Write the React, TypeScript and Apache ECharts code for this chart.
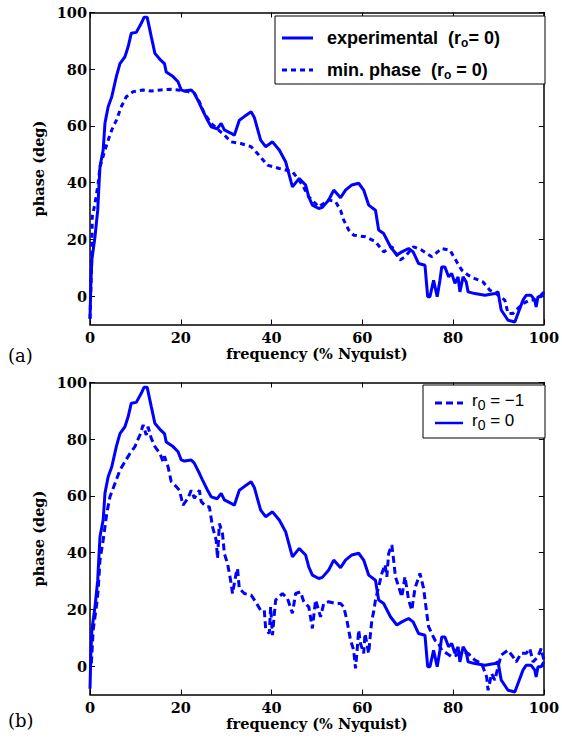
import React, { useEffect, useRef } from "react";
import * as echarts from "echarts";

// Experimental phase (r_o = 0) — same curve in both panels
const expFreq = [0, 0.2, 0.4, 1.1, 1.7, 2.0, 2.2, 2.9, 3.3, 4.0, 4.8, 5.8, 6.6, 7.7, 8.4, 9.1, 10.2, 11.3, 11.9, 12.6, 13.5, 14.3, 15.4, 16.4, 16.8, 18.3, 19.4, 20.1, 20.8, 22.3, 23.0, 24.1, 24.8, 25.9, 26.7, 28.0, 28.9, 29.6, 31.1, 31.8, 32.9, 34.0, 35.5, 36.2, 37.6, 38.7, 40.2, 41.7, 43.1, 44.6, 46.1, 47.5, 48.2, 49.0, 50.4, 51.2, 52.6, 53.7, 55.2, 56.3, 57.7, 59.2, 60.3, 61.4, 62.9, 63.6, 64.7, 66.2, 67.6, 68.7, 70.2, 71.2, 72.4, 73.8, 74.4, 74.9, 75.7, 76.5, 77.1, 77.5, 78.2, 79.0, 79.7, 80.4, 81.1, 81.5, 82.2, 82.9, 83.3, 84.8, 87.0, 89.2, 89.9, 90.6, 92.1, 93.6, 94.3, 95.4, 96.1, 97.2, 98.0, 98.3, 98.7, 99.4, 100];
const expPhase = [-8, 5, 12.7, 20.9, 30.3, 39.7, 45.6, 51.5, 61, 66.8, 70.3, 77.4, 82, 84.4, 87.9, 92.7, 93, 96.2, 98.3, 98.3, 91.5, 85.6, 83.5, 82, 79, 77.4, 75.6, 72.7, 72.3, 72.7, 71.5, 68, 65.6, 62, 59.7, 59, 60.9, 58.6, 57.4, 56.7, 62, 63.3, 65, 63, 55, 52.7, 54.4, 51.5, 47.4, 38.5, 41.5, 39.2, 35, 32.1, 30.9, 31.3, 33.9, 37.4, 34.7, 37.4, 39.2, 39.8, 37.4, 32.1, 30.3, 23.3, 22.1, 17.4, 14.5, 15.6, 16.8, 15.6, 11.5, 10.9, -0.2, -0.2, 5.6, -0.2, 5.6, 10.3, 10.3, 6.8, 8, 4.5, 6.8, 1.5, 6.8, 5.0, 1.5, 0.9, 0.3, 0.9, 1.5, -4.9, -8.5, -9.1, -6.1, -1.4, 0.3, 0.3, -1.4, -3.8, -0.2, -0.2, 1.5];

// Minimum phase (r_o = 0) — panel (a)
const minFreq = [0, 0.4, 0.5, 1.1, 1.8, 2.2, 3.3, 4.0, 4.8, 5.8, 6.9, 8.0, 9.5, 11.7, 13.5, 15.6, 17.9, 19.4, 21.6, 23.0, 24.1, 25.2, 26.7, 28.0, 29.6, 31.1, 33.2, 35.5, 36.9, 39.1, 41.7, 44.6, 46.8, 48.2, 50.4, 52.6, 54.1, 55.2, 55.9, 57.0, 58.1, 60.7, 62.9, 64.7, 66.5, 68.3, 69.4, 71.3, 73.1, 75.3, 77.5, 79.3, 80.8, 81.9, 83.3, 84.8, 86.6, 88.1, 89.9, 91.4, 92.1, 93.2, 94.3, 95.4, 96.9, 98.3, 99.4, 100];
const minPhase = [-8, 13.9, 28, 32.7, 39.7, 45.6, 51.5, 55, 58.6, 62, 66.8, 70.3, 72.1, 72.7, 72.3, 72.7, 72.9, 72.7, 72.1, 71.5, 68.5, 64.4, 60.9, 59, 56.8, 54.4, 53.8, 52.7, 50.3, 46.2, 45.0, 43.9, 39.2, 35, 31.5, 33.9, 33.3, 30.3, 26.8, 23.3, 21.5, 20.9, 19.2, 15.6, 17.4, 12.7, 13.9, 17.4, 16.2, 13.9, 16.8, 16.2, 12.1, 9.2, 7.4, 6.2, 5.0, 2.1, 0.4, -1.4, -6.1, -6.1, -4.3, -2.6, -1.4, -1.4, 0.4, 1.5];

// r_0 = -1 — panel (b)
const r1Freq = [0.3, 0.7, 1.5, 1.8, 2.2, 2.9, 3.7, 4.4, 5.5, 6.6, 7.7, 8.8, 9.9, 11.0, 11.7, 12.4, 12.8, 13.5, 14.3, 15.4, 16.1, 16.4, 17.2, 17.9, 19.0, 19.7, 20.5, 21.6, 22.3, 23.0, 24.1, 24.5, 25.6, 26.3, 27.0, 27.8, 28.1, 28.5, 29.2, 29.6, 30.3, 31.1, 31.4, 32.2, 32.5, 32.9, 34.0, 35.5, 36.5, 37.6, 38.4, 38.7, 39.5, 39.8, 40.2, 40.9, 42.4, 43.5, 44.6, 45.3, 46.4, 47.1, 48.2, 49.0, 49.7, 50.8, 51.5, 52.6, 54.1, 55.2, 55.9, 56.6, 57.4, 58.1, 58.5, 58.8, 59.2, 59.6, 60.3, 60.6, 61.4, 61.8, 62.1, 62.5, 62.9, 63.6, 64.3, 65.0, 65.4, 65.8, 66.5, 66.9, 67.3, 68.0, 68.7, 69.4, 69.8, 70.2, 70.9, 71.6, 72.7, 73.5, 74.2, 74.6, 75.3, 76.0, 76.8, 77.5, 78.6, 79.7, 80.8, 81.9, 83.3, 84.8, 86.3, 87.4, 87.7, 88.5, 89.2, 89.9, 90.6, 92.1, 93.2, 93.9, 95.0, 96.1, 96.9, 97.6, 98.7, 99.4, 100];
const r1Phase = [1, 12.7, 22.1, 26.8, 37.4, 44.4, 53.9, 59.7, 64.4, 69.1, 72.1, 75, 77.4, 81.5, 85, 81.5, 84.4, 80.3, 77.4, 75, 72.1, 74, 70.3, 65, 63.3, 62, 56.8, 59.2, 62, 59.2, 62, 58, 56.2, 56.2, 49.1, 44.4, 38, 50.3, 46.6, 39.7, 36.2, 29.2, 25.6, 32.7, 34.4, 27.4, 25.6, 25, 22.7, 19.7, 19.7, 13.3, 11.5, 20.9, 10.9, 23.3, 25.6, 23.9, 18.6, 25.6, 26.2, 22.7, 20.9, 13.3, 23.3, 17.4, 22.1, 22.7, 22.1, 22.1, 20.9, 16.2, 9.2, 5.6, -0.8, 4.5, 12.7, 8, 4.5, 11.5, 4.5, 11.5, 16.2, 19.2, 23.3, 28, 32.7, 35.8, 31.5, 39.7, 42.7, 37.4, 31.5, 28, 24.4, 31.5, 27.4, 23.3, 19.7, 27.4, 32.7, 27.4, 18.6, 13.9, 11.5, 9.2, 8, 5.6, 4.5, 3.3, 3.9, 5.0, 4.5, 2.1, 0.9, -3.8, -8.5, -2.6, -4.9, -0.2, 3.9, 5.6, 3.3, 1.5, 4.5, 4.5, 6.2, 1.5, 3.3, 6.2, 2.1];

const xTicks = [0, 20, 40, 60, 80, 100];
const yTicks = [0, 20, 40, 60, 80, 100];

const zip = (xs: number[], ys: number[]) => xs.map((x, i) => [x, ys[i]]);

const BLUE = "#0000ff";
const labelFont = { fontFamily: "DejaVu Serif", fontWeight: "bold" as const, fontSize: 14.5, color: "#000" };

function makeX(gridIndex: number, main: boolean) {
  return {
    type: "value",
    gridIndex,
    position: main ? "bottom" : "top",
    min: 0,
    max: 100,
    interval: 20,
    axisLine: { show: true, onZero: false, lineStyle: { color: "#000", width: 1.5 } },
    axisTick: { show: true, inside: true, length: 5, customValues: xTicks, lineStyle: { color: "#000", width: 1 } },
    axisLabel: { show: main, margin: 5, customValues: xTicks, ...labelFont },
    splitLine: { show: false },
    name: main ? "frequency (% Nyquist)" : "",
    nameLocation: "middle",
    nameGap: 21,
    nameTextStyle: labelFont,
  };
}

function makeY(gridIndex: number, main: boolean) {
  return {
    type: "value",
    gridIndex,
    position: main ? "left" : "right",
    min: -10,
    max: 100,
    axisLine: { show: true, onZero: false, lineStyle: { color: "#000", width: 1.5 } },
    axisTick: { show: true, inside: true, length: 5, customValues: yTicks, lineStyle: { color: "#000", width: 1 } },
    axisLabel: { show: main, margin: 3, customValues: yTicks, ...labelFont },
    splitLine: { show: false },
    name: main ? "phase (deg)" : "",
    nameLocation: "middle",
    nameGap: 37,
    nameTextStyle: labelFont,
  };
}

export default function App() {
  const ref = useRef<HTMLDivElement>(null);
  useEffect(() => {
    const chart = echarts.init(ref.current!, null, { renderer: "svg" });
    const option: any = {
      animation: false,
      backgroundColor: "#fff",
      grid: [
        { left: 90, right: 15.5, top: 12.5, height: 312 },
        { left: 90, right: 15.5, top: 382.5, height: 312 },
      ],
      xAxis: [makeX(0, true), makeX(0, false), makeX(1, true), makeX(1, false)],
      yAxis: [makeY(0, true), makeY(0, false), makeY(1, true), makeY(1, false)],
      series: [
        {
          type: "line", xAxisIndex: 0, yAxisIndex: 0, showSymbol: false,
          data: zip(expFreq, expPhase),
          lineStyle: { color: BLUE, width: 3 },
        },
        {
          type: "line", xAxisIndex: 0, yAxisIndex: 0, showSymbol: false,
          data: zip(minFreq, minPhase),
          lineStyle: { color: BLUE, width: 3, type: [5, 4] },
        },
        {
          type: "line", xAxisIndex: 2, yAxisIndex: 2, showSymbol: false,
          data: zip(expFreq, expPhase),
          lineStyle: { color: BLUE, width: 3 },
        },
        {
          type: "line", xAxisIndex: 2, yAxisIndex: 2, showSymbol: false,
          data: zip(r1Freq, r1Phase),
          lineStyle: { color: BLUE, width: 3, type: [7, 4] },
        },
      ],
      graphic: [
        // legend (a)
        { type: "rect", z: 100, shape: { x: 275, y: 16, width: 270, height: 68 }, style: { fill: "#fff", stroke: "#000", lineWidth: 1 } },
        { type: "line", z: 101, shape: { x1: 282, y1: 38, x2: 313, y2: 38 }, style: { stroke: BLUE, lineWidth: 3 } },
        { type: "line", z: 101, shape: { x1: 282, y1: 70, x2: 313, y2: 70 }, style: { stroke: BLUE, lineWidth: 3, lineDash: [5, 4] } },
        {
          type: "text", z: 101, x: 327, y: 38,
          style: {
            text: "{a|experimental  (r}{s|o}{a|= 0)}",
            verticalAlign: "middle",
            rich: {
              a: { fontFamily: "Liberation Sans", fontWeight: "bold", fontSize: 18, fill: "#000" },
              s: { fontFamily: "Liberation Sans", fontWeight: "bold", fontSize: 12, fill: "#000", padding: [10, 0, 0, 0] },
            },
          },
        },
        {
          type: "text", z: 101, x: 327, y: 70,
          style: {
            text: "{a|min. phase  (r}{s|o}{a| = 0)}",
            verticalAlign: "middle",
            rich: {
              a: { fontFamily: "Liberation Sans", fontWeight: "bold", fontSize: 18, fill: "#000" },
              s: { fontFamily: "Liberation Sans", fontWeight: "bold", fontSize: 12, fill: "#000", padding: [10, 0, 0, 0] },
            },
          },
        },
        // legend (b)
        { type: "rect", z: 100, shape: { x: 423, y: 385, width: 122, height: 53 }, style: { fill: "#fff", stroke: "#000", lineWidth: 1 } },
        { type: "line", z: 101, shape: { x1: 435, y1: 403, x2: 463, y2: 403 }, style: { stroke: BLUE, lineWidth: 3, lineDash: [7, 4] } },
        { type: "line", z: 101, shape: { x1: 435, y1: 423, x2: 463, y2: 423 }, style: { stroke: BLUE, lineWidth: 2.5 } },
        {
          type: "text", z: 101, x: 472, y: 400,
          style: {
            text: "{a|r}{s|0}{a| = −1}",
            verticalAlign: "middle",
            rich: {
              a: { fontFamily: "Liberation Sans", fontSize: 17, fill: "#000" },
              s: { fontFamily: "Liberation Sans", fontSize: 14, fill: "#000", padding: [10, 0, 0, 0] },
            },
          },
        },
        {
          type: "text", z: 101, x: 472, y: 420,
          style: {
            text: "{a|r}{s|0}{a| = 0}",
            verticalAlign: "middle",
            rich: {
              a: { fontFamily: "Liberation Sans", fontSize: 17, fill: "#000" },
              s: { fontFamily: "Liberation Sans", fontSize: 14, fill: "#000", padding: [10, 0, 0, 0] },
            },
          },
        },
        // panel labels
        { type: "text", x: 8, y: 355, style: { text: "(a)", fontFamily: "DejaVu Serif", fontSize: 18, fill: "#000", verticalAlign: "middle" } },
        { type: "text", x: 8, y: 720, style: { text: "(b)", fontFamily: "DejaVu Serif", fontSize: 18, fill: "#000", verticalAlign: "middle" } },
      ],
    };
    chart.setOption(option);
    return () => chart.dispose();
  }, []);
  return (
    <div
      ref={ref}
      style={{ position: "absolute", left: 0, top: 0, width: 562, height: 738, background: "#fff" }}
    />
  );
}
